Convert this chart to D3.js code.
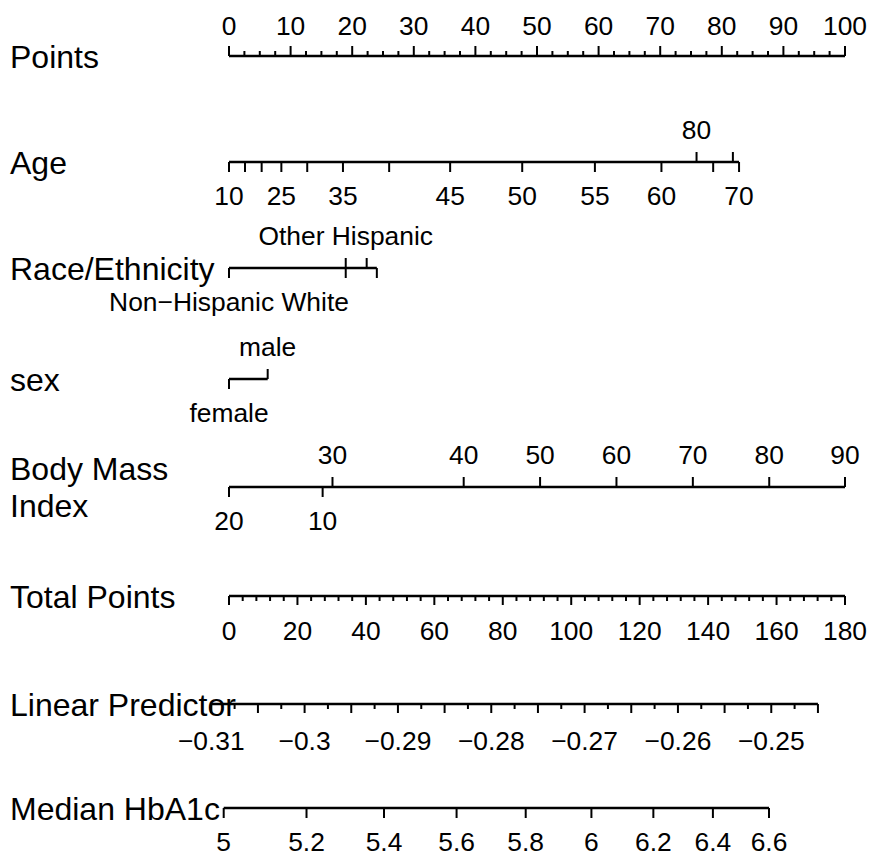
<!DOCTYPE html>
<html>
<head>
<meta charset="utf-8">
<script src="https://cdn.jsdelivr.net/npm/d3@7"></script>
<style>
  body { margin: 0; background: #fff; }
  text { font-family: "Liberation Sans", Arial, Helvetica, sans-serif; fill: #000; }
</style>
</head>
<body>
<svg id="chart" width="871" height="857"></svg>
<script>
// ---- Nomogram data -------------------------------------------------------
// Points scale
const pointsLabels = [0, 10, 20, 30, 40, 50, 60, 70, 80, 90, 100];

// Age (restricted cubic spline): value -> points
const ageValues = [10, 15, 20, 25, 30, 35, 40, 45, 50, 55, 60, 65, 70, 75, 80];
const agePoints = [0, 2.6, 5.3, 8.5, 12.7, 18.5, 26.0, 35.9, 47.6, 59.4, 70.2, 78.6, 82.8, 81.8, 75.9];
const ageShown  = [1, 0, 0, 1, 0, 1, 0, 1, 1, 1, 1, 0, 1, 0, 1];

// Race/Ethnicity
const raceLevels = ["Non\u2212Hispanic White", "Other Hispanic", "Mexican American", "Non\u2212Hispanic Black", "Other Race"];
const racePoints = [0, 18.95, 18.95, 22.35, 24.0];
const raceShown  = [1, 1, 0, 0, 0];

// sex
const sexLevels = ["female", "male"];
const sexPoints = [0, 6.28];
const sexShown  = [1, 1];

// Body Mass Index (spline)
const bmiValues = [10, 20, 30, 40, 50, 60, 70, 80, 90];
const bmiPoints = [15.2, 0, 16.8, 38.1, 50.5, 62.9, 75.3, 87.7, 100];
const bmiShown  = [1, 1, 1, 1, 1, 1, 1, 1, 1];

// Total points scale
const totalLabels = [0, 20, 40, 60, 80, 100, 120, 140, 160, 180];
const totalMax = 180;

// Linear predictor at 0 and at the maximum total points
const lpAtTotal = [-0.3081, -0.2421];
const lpLabels = [-0.31, -0.30, -0.29, -0.28, -0.27, -0.26, -0.25];
const lpExtent = [-0.31, -0.245];

// Median HbA1c: value -> total points
const hba1cValues = [5, 5.2, 5.4, 5.6, 5.8, 6, 6.2, 6.4, 6.6];
const hba1cTotal  = [-1.55, 22.65, 45.3, 66.5, 86.7, 105.9, 124.0, 141.4, 157.8];

// ---- Layout ---------------------------------------------------------------
const W = 871, H = 857;
const left = 229, right = 845;
const rowY = { points: 56, age: 162, race: 268, sex: 379, bmi: 487, total: 596, lp: 704, hba1c: 808 };
const labelFont = 32, tickFont = 26.4;
const labelGap = 33;
const lineW = 2.6, tickW = 2;

const svg = d3.select("#chart");
svg.append("rect").attr("width", W).attr("height", H).attr("fill", "#fff");

const xPts = d3.scaleLinear().domain([0, 100]).range([left, right]);
const xTot = d3.scaleLinear().domain([0, totalMax]).range([left, right]);
const xLp  = d3.scaleLinear().domain(lpAtTotal).range([left, right]);

const g = svg.append("g");

function hline(x0, x1, y) {
  g.append("line").attr("x1", x0).attr("x2", x1).attr("y1", y).attr("y2", y)
    .attr("stroke", "#000").attr("stroke-width", lineW).attr("stroke-linecap", "butt");
}
function tick(x, y, dir, len) {
  g.append("line").attr("x1", x).attr("x2", x).attr("y1", y).attr("y2", y + dir * len)
    .attr("stroke", "#000").attr("stroke-width", tickW);
}
function tlabel(x, y, dir, txt, gap = labelGap) {
  g.append("text").attr("x", x).attr("y", y + dir * gap).attr("dy", "0.36em")
    .attr("text-anchor", "middle").attr("font-size", tickFont).text(txt);
}
function rowLabel(lines, y) {
  const t = g.append("text").attr("x", 10).attr("font-size", labelFont);
  const lh = labelFont * 1.17;
  lines.forEach((s, i) => {
    t.append("tspan").attr("x", 10)
      .attr("y", y + (i - (lines.length - 1) / 2) * lh).attr("dy", "0.36em").text(s);
  });
}
const fmt = v => String(v).replace("-", "\u2212");

// Points
rowLabel(["Points"], rowY.points);
hline(xPts(0), xPts(100), rowY.points);
d3.range(0, 100.001, 2.5).forEach(v => {
  const major = Math.abs(v % 10) < 1e-9;
  tick(xPts(v), rowY.points, -1, major ? 10 : 5);
});
pointsLabels.forEach(v => tlabel(xPts(v), rowY.points, -1, v, 31));

// Continuous predictor: ticks up to the turning point go below, the rest above
function continuousRow(y, values, pts, shown) {
  let turn = pts.length - 1;
  for (let i = 1; i < pts.length - 1; i++) {
    if (Math.sign(pts[i] - pts[i - 1]) !== Math.sign(pts[i + 1] - pts[i])) { turn = i; break; }
  }
  hline(xPts(d3.min(pts)), xPts(d3.max(pts)), y);
  values.forEach((v, i) => {
    const dir = i <= turn ? 1 : -1;
    tick(xPts(pts[i]), y, dir, 10);
    if (shown[i]) tlabel(xPts(pts[i]), y, dir, v);
  });
}
// Categorical predictor: levels alternate below/above in order of points
function categoricalRow(y, levels, pts, shown) {
  const order = d3.range(levels.length).sort((a, b) => pts[a] - pts[b]);
  hline(xPts(d3.min(pts)), xPts(d3.max(pts)), y);
  order.forEach((i, k) => {
    const dir = k % 2 === 0 ? 1 : -1;
    tick(xPts(pts[i]), y, dir, 10);
    if (shown[i]) tlabel(xPts(pts[i]), y, dir, levels[i]);
  });
}

rowLabel(["Age"], rowY.age);
continuousRow(rowY.age, ageValues, agePoints, ageShown);

rowLabel(["Race/Ethnicity"], rowY.race);
categoricalRow(rowY.race, raceLevels, racePoints, raceShown);

rowLabel(["sex"], rowY.sex);
categoricalRow(rowY.sex, sexLevels, sexPoints, sexShown);

rowLabel(["Body Mass", "Index"], rowY.bmi);
continuousRow(rowY.bmi, bmiValues, bmiPoints, bmiShown);

// Total points
rowLabel(["Total Points"], rowY.total);
hline(xTot(0), xTot(totalMax), rowY.total);
d3.range(0, totalMax + 0.001, 4).forEach(v => {
  const major = v % 20 === 0;
  tick(xTot(v), rowY.total, 1, major ? 9 : 5);
});
totalLabels.forEach(v => tlabel(xTot(v), rowY.total, 1, v, 34));

// Linear predictor
rowLabel(["Linear Predictor"], rowY.lp);
hline(xLp(lpExtent[0]), xLp(lpExtent[1]), rowY.lp);
d3.range(0, Math.round((lpExtent[1] - lpExtent[0]) / 0.0025) + 1).forEach(k => {
  const v = lpExtent[0] + k * 0.0025;
  tick(xLp(v), rowY.lp, 1, k % 2 === 0 ? 9 : 5);
});
lpLabels.forEach(v => tlabel(xLp(v), rowY.lp, 1, fmt(v), 36));

// Median HbA1c
rowLabel(["Median HbA1c"], rowY.hba1c);
hline(xTot(d3.min(hba1cTotal)), xTot(d3.max(hba1cTotal)), rowY.hba1c);
hba1cValues.forEach((v, i) => {
  tick(xTot(hba1cTotal[i]), rowY.hba1c, 1, 10);
  tlabel(xTot(hba1cTotal[i]), rowY.hba1c, 1, v, 33);
});
</script>
</body>
</html>
